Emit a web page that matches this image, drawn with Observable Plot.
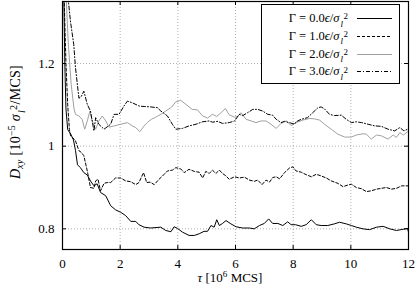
<!DOCTYPE html>
<html><head><meta charset="utf-8">
<script src="https://cdn.jsdelivr.net/npm/d3@7"></script>
<script src="https://cdn.jsdelivr.net/npm/@observablehq/plot@0.6"></script>
<style>
body{margin:0;background:#fff;}
#wrap{position:relative;width:415px;height:289px;font-family:"Liberation Serif","DejaVu Serif",serif;font-size:12px;color:#000;}
.ss{display:inline-block;vertical-align:-0.5em;line-height:0.8;font-size:0.72em;text-align:left;margin-left:1px;}
.ss span{display:block;}
.ss span.up{margin-left:3px;}
.ylab{position:absolute;left:17px;top:122px;transform:translate(-50%,-50%) rotate(-90deg);white-space:nowrap;font-size:14px;letter-spacing:0.3px;}
.xlab{position:absolute;left:230px;top:278px;transform:translate(-50%,-50%);white-space:nowrap;font-size:13px;}
.legend{position:absolute;left:261px;top:4px;width:137px;height:78px;border:1px solid #000;background:#fff;}
.row{position:absolute;left:0;height:18px;width:137px;}
.row .txt{position:absolute;right:51px;top:0;line-height:18px;white-space:nowrap;font-size:12.5px;}
.row svg{position:absolute;left:95px;top:8px;}
sup.e{font-size:0.7em;vertical-align:0.55em;line-height:0;}
sub.e{font-size:0.7em;vertical-align:-0.3em;line-height:0;}
</style></head><body><div id="wrap"></div>
<script>
// Gamma = 0.0
const t0 = [0.0,0.04,0.08,0.12,0.18,0.28,0.38,0.45,0.52,0.62,0.74,0.86,0.97,1.09,1.2,1.32,1.5,1.67,1.84,2.02,2.19,2.37,2.54,2.65,2.83,3.06,3.41,3.58,3.76,3.87,3.99,4.16,4.39,4.57,4.74,4.91,5.03,5.15,5.26,5.35,5.44,5.55,5.67,5.84,6.02,6.25,6.48,6.65,6.83,7.0,7.15,7.29,7.47,7.64,7.81,7.93,8.08,8.28,8.45,8.63,8.8,8.97,9.2,9.43,9.61,9.84,10.02,10.19,10.42,10.65,10.89,11.12,11.35,11.58,11.82,11.97,12.0];
const v0 = [1.6,1.40,1.20,1.09,1.04,1.03,1.015,0.99,0.955,0.948,0.936,0.930,0.916,0.904,0.909,0.888,0.880,0.856,0.846,0.840,0.832,0.818,0.818,0.810,0.804,0.802,0.804,0.796,0.793,0.805,0.801,0.792,0.784,0.784,0.788,0.794,0.794,0.808,0.804,0.822,0.808,0.813,0.820,0.812,0.805,0.802,0.802,0.800,0.808,0.813,0.824,0.813,0.813,0.808,0.817,0.810,0.810,0.806,0.810,0.822,0.810,0.808,0.808,0.812,0.816,0.812,0.808,0.804,0.800,0.798,0.804,0.806,0.800,0.796,0.799,0.801,0.792];
// Gamma = 1.0
const t1 = [0.02,0.06,0.12,0.18,0.24,0.28,0.36,0.45,0.57,0.65,0.74,0.86,0.97,1.09,1.15,1.23,1.32,1.44,1.55,1.67,1.84,2.02,2.19,2.37,2.54,2.65,2.81,2.92,3.04,3.18,3.35,3.47,3.64,3.81,3.93,4.1,4.22,4.39,4.57,4.74,4.86,4.97,5.09,5.2,5.32,5.44,5.55,5.67,5.78,5.97,6.13,6.31,6.48,6.65,6.77,6.92,7.06,7.18,7.29,7.41,7.53,7.70,7.87,7.99,8.1,8.28,8.45,8.63,8.8,8.97,9.15,9.32,9.55,9.73,9.9,10.02,10.19,10.37,10.54,10.71,10.89,11.06,11.23,11.41,11.58,11.76,11.97];
const v1 = [1.6,1.35,1.20,1.10,1.04,1.025,1.02,1.013,0.989,0.985,0.977,0.940,0.900,0.898,0.916,0.920,0.892,0.910,0.912,0.912,0.923,0.923,0.916,0.914,0.907,0.912,0.936,0.912,0.913,0.907,0.920,0.928,0.940,0.942,0.948,0.945,0.936,0.944,0.939,0.937,0.923,0.939,0.934,0.942,0.934,0.942,0.934,0.928,0.920,0.926,0.923,0.925,0.918,0.915,0.918,0.907,0.918,0.913,0.924,0.926,0.921,0.936,0.947,0.950,0.940,0.937,0.931,0.926,0.932,0.928,0.923,0.916,0.910,0.902,0.906,0.908,0.900,0.897,0.890,0.892,0.896,0.898,0.900,0.896,0.898,0.904,0.904];
// Gamma = 2.0
const t2 = [0.02,0.10,0.2,0.3,0.4,0.45,0.57,0.68,0.77,0.86,0.95,1.03,1.15,1.26,1.38,1.5,1.61,1.79,2.02,2.25,2.42,2.54,2.68,2.83,2.94,3.08,3.23,3.41,3.58,3.76,3.93,4.1,4.28,4.5,4.68,4.86,5.03,5.2,5.35,5.5,5.65,5.78,5.97,6.07,6.19,6.37,6.54,6.71,6.89,7.06,7.23,7.41,7.58,7.76,7.93,8.1,8.33,8.57,8.74,8.92,9.09,9.32,9.55,9.79,10.02,10.19,10.42,10.54,10.71,10.89,11.06,11.29,11.47,11.58,11.7,11.82,11.97];
const v2 = [1.7,1.40,1.25,1.15,1.09,1.077,1.073,1.065,1.041,1.061,1.085,1.061,1.041,1.061,1.073,1.061,1.046,1.049,1.053,1.057,1.049,1.045,1.035,1.049,1.057,1.065,1.070,1.077,1.085,1.093,1.107,1.111,1.101,1.089,1.088,1.073,1.068,1.077,1.072,1.081,1.091,1.076,1.070,1.072,1.081,1.065,1.061,1.057,1.061,1.061,1.053,1.043,1.055,1.061,1.050,1.057,1.063,1.067,1.066,1.063,1.053,1.041,1.029,1.022,1.022,1.027,1.030,1.029,1.017,1.027,1.025,1.017,1.027,1.021,1.033,1.027,1.035];
// Gamma = 3.0
const t3 = [0.05,0.16,0.28,0.39,0.45,0.57,0.65,0.74,0.86,0.97,1.09,1.15,1.26,1.44,1.67,1.79,1.96,2.13,2.25,2.42,2.66,2.83,3.06,3.29,3.41,3.64,3.81,3.93,4.16,4.39,4.63,4.86,5.09,5.2,5.38,5.55,5.78,5.97,6.13,6.25,6.42,6.6,6.77,6.94,7.12,7.29,7.41,7.58,7.70,7.87,8.05,8.1,8.28,8.5,8.68,8.86,8.97,9.09,9.26,9.43,9.67,9.84,10.02,10.19,10.37,10.6,10.83,11.06,11.29,11.52,11.7,11.84,11.97];
const v3 = [1.6,1.38,1.30,1.246,1.19,1.116,1.12,1.133,1.101,1.085,1.037,1.069,1.053,1.041,1.053,1.077,1.077,1.097,1.109,1.105,1.097,1.096,1.095,1.093,1.085,1.073,1.053,1.041,1.043,1.049,1.053,1.059,1.061,1.058,1.060,1.055,1.057,1.061,1.077,1.074,1.081,1.089,1.089,1.085,1.077,1.075,1.065,1.057,1.060,1.057,1.053,1.059,1.065,1.069,1.081,1.093,1.095,1.090,1.077,1.074,1.075,1.065,1.057,1.059,1.057,1.053,1.049,1.048,1.041,1.037,1.045,1.037,1.041];

const seriesNames = ["0.0","1.0","2.0","3.0"];
const seriesStroke = ["#000","#000","#a0a0a0","#000"];
const seriesDash = [null,"3,2",null,"4,2,1,2"];
const xTicks = [0,2,4,6,8,10,12];
const yTicks = [0.8,1,1.2];

const T = [t0,t1,t2,t3], V = [v0,v1,v2,v3];
const series = T.map((ts,i)=>ts.map((t,j)=>({t, v: V[i][j]})));

const W = 415, H = 289, mL = 62, mR = 7, mT = 1, mB = 40;
const innerH = H - mT - mB, innerW = W - mL - mR, tk = 4;

const lines = series.map((d,i)=>Plot.line(d,{x:"t",y:"v",stroke:seriesStroke[i],strokeWidth:1,strokeDasharray:seriesDash[i],clip:true}));

const chart = Plot.plot({
  width: W, height: H,
  marginLeft: mL, marginRight: mR, marginTop: mT, marginBottom: mB,
  style: {fontFamily: '"Liberation Serif", "DejaVu Serif", serif', fontSize: "13px", background: "#fff", color: "#000"},
  x: {domain:[0,12], ticks: xTicks, tickSize: 0, tickPadding: 9, label: null},
  y: {domain:[0.75,1.35], ticks: yTicks, tickSize: 0, tickPadding: 8, tickFormat: d=>String(d), label: null},
  marks: [
    Plot.ruleX(xTicks, {x: d=>d, stroke:"#999", strokeWidth:0.8, strokeDasharray:"1,2"}),
    Plot.ruleY(yTicks, {y: d=>d, stroke:"#999", strokeWidth:0.8, strokeDasharray:"1,2"}),
    ...lines,
    Plot.tickX(xTicks, {x: d=>d, insetTop: innerH - tk, stroke:"#000"}),
    Plot.tickX(xTicks, {x: d=>d, insetBottom: innerH - tk, stroke:"#000"}),
    Plot.tickY(yTicks, {y: d=>d, insetRight: innerW - tk, stroke:"#000"}),
    Plot.tickY(yTicks, {y: d=>d, insetLeft: innerW - tk, stroke:"#000"}),
    Plot.frame({stroke:"#000", strokeWidth:1.2})
  ]
});
const wrap = document.getElementById("wrap");
wrap.appendChild(chart);

const ylab = document.createElement("div");
ylab.className = "ylab";
ylab.innerHTML = '<i>D</i><sub class="e"><i>xy</i></sub> [10<sup class="e">−5</sup> <i>σ</i><span class="ss"><span class="up">2</span><span><i>l</i></span></span>/MCS]';
wrap.appendChild(ylab);

const xlab = document.createElement("div");
xlab.className = "xlab";
xlab.innerHTML = '<i>τ</i> [10<sup class="e">6</sup> MCS]';
wrap.appendChild(xlab);

const leg = document.createElement("div");
leg.className = "legend";
seriesNames.forEach((n,i)=>{
  const row = document.createElement("div");
  row.className = "row";
  row.style.top = (4 + i*17.8) + "px";
  row.innerHTML = '<span class="txt">Γ = ' + n + '<i>ϵ</i>/<i>σ</i><span class="ss"><span class="up">2</span><span><i>l</i></span></span></span>' +
    '<svg width="36" height="3"><line x1="0" x2="35" y1="1.5" y2="1.5" stroke="' + seriesStroke[i] + '" stroke-width="1"' + (seriesDash[i] ? ' stroke-dasharray="' + seriesDash[i] + '"' : '') + '/></svg>';
  leg.appendChild(row);
});
wrap.appendChild(leg);
</script>
</body></html>
